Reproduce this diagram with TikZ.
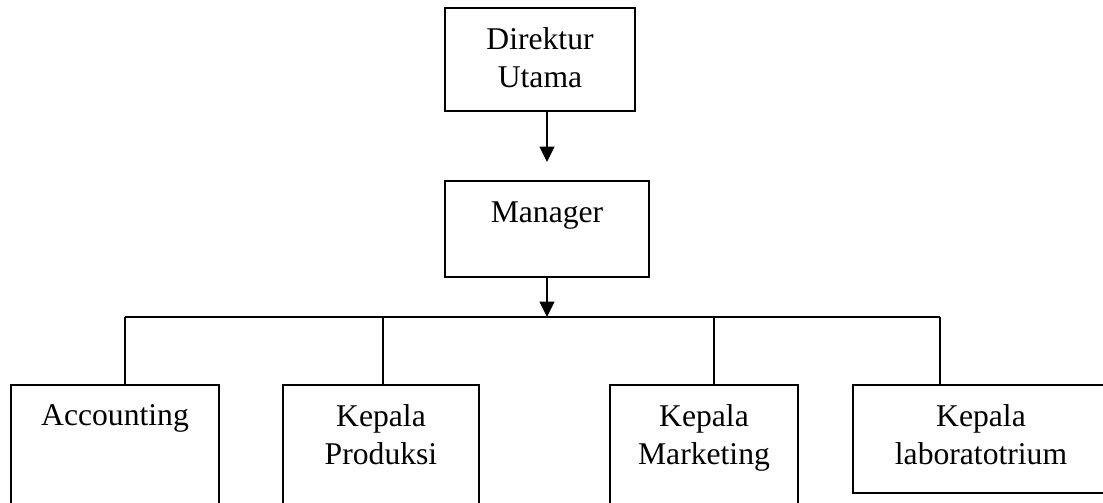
\documentclass[tikz,border=0pt]{standalone}
\usepackage{fontspec}
\setmainfont{Liberation Serif}
\usetikzlibrary{arrows.meta}
\tikzset{
	kotak/.style={draw,line width=1.3pt,inner sep=0pt},
	teks/.style={anchor=north,inner sep=0pt,align=center,font=\fontsize{22.5}{27.5}\selectfont},
	garis/.style={line width=1.3pt},
}
\begin{document}
\begin{tikzpicture}[x=0.025cm,y=-0.025cm,>={Triangle[width=10.5pt,length=11pt]},line join=miter]
	\useasboundingbox (0,0) rectangle (1103,502);
	\clip (0,0) rectangle (1103,502);
	% kotak atas
	\node[kotak,minimum width=190*0.025cm,minimum height=103*0.025cm] (dir) at (540,59.5) {};
	\node[teks] (tdir) at (dir.north|-0,27) {Direktur\\Utama};
	\node[kotak,minimum width=204*0.025cm,minimum height=96*0.025cm] (mgr) at (547,229) {};
	\node[teks] (tmgr) at (mgr.north|-0,201) {Manager};
	% kotak bawah
	\node[kotak,minimum width=208*0.025cm,minimum height=160*0.025cm] (acc) at (115,465) {};
	\node[teks] (tacc) at (acc.north|-0,404) {Accounting};
	\node[kotak,minimum width=196*0.025cm,minimum height=160*0.025cm] (prod) at (381,465) {};
	\node[teks] (tprod) at (prod.north|-0,404) {Kepala\\Produksi};
	\node[kotak,minimum width=188*0.025cm,minimum height=160*0.025cm] (mkt) at (704,465) {};
	\node[teks] (tmkt) at (mkt.north|-0,404) {Kepala\\Marketing};
	\node[kotak,minimum width=260*0.025cm,minimum height=108*0.025cm] (lab) at (983,439) {};
	\node[teks] (tlab) at (981,404) {Kepala\\laboratotrium};
	% garis penghubung
	\coordinate (p1) at (547,162);
	\coordinate (p2) at (547,317);
	\draw[garis,->] (dir.south-|p1)--(p1);
	\draw[garis,->] (mgr.south-|p2)--(p2);
	\draw[garis] (125,317)--(940,317);
	\draw[garis] (acc.north-|125,0)--(125,317)
		(prod.north-|383,0)--(383,317)
		(lab.north-|940,0)--(940,317);
	\draw[line width=0.8pt] (mkt.north-|714,0)--(714,317);
\end{tikzpicture}
\end{document}
